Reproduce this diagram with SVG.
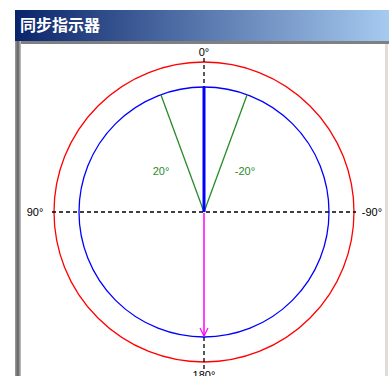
<svg xmlns="http://www.w3.org/2000/svg" width="389" height="376" viewBox="0 0 389 376">
<style>
.lbl{font-family:"Liberation Sans",Arial,sans-serif;font-size:11px;fill:#000;text-anchor:middle}
.glbl{font-family:"Liberation Sans",Arial,sans-serif;font-size:11px;fill:#2a8a2a;text-anchor:middle}
.axis{stroke:#000;stroke-width:1.3;stroke-dasharray:4,3;fill:none}
</style>
<defs>
<linearGradient id="tg" x1="0" y1="0" x2="1" y2="0">
<stop offset="0" stop-color="#0a246a"/>
<stop offset="1" stop-color="#a6caf0"/>
</linearGradient>
<linearGradient id="lb" x1="0" y1="0" x2="1" y2="0">
<stop offset="0" stop-color="#a0a0a0"/>
<stop offset="0.5" stop-color="#606060"/>
<stop offset="1" stop-color="#c8c8c8"/>
</linearGradient>
<marker id="ah" markerWidth="10" markerHeight="10" refX="9" refY="5" orient="auto" markerUnits="userSpaceOnUse">
<path d="M1,1 L9,5 L1,9" fill="none" stroke="#ff00ff" stroke-width="1.2"/>
</marker>
</defs>
<rect width="389" height="376" fill="#fff"/>
<g id="frame">
<rect x="15" y="10" width="374" height="31" fill="url(#tg)"/>
<text x="20" y="31" font-family="'Noto Sans CJK SC',sans-serif" font-size="16" font-weight="bold" fill="#fff">同步指示器</text>
<rect x="15" y="41" width="374" height="3" fill="#808080"/>
<rect x="15" y="41" width="6" height="335" fill="url(#lb)"/>
<rect x="385" y="44" width="3" height="332" fill="#e0dcd8"/>
</g>
<g id="circles">
<circle id="outer" cx="204" cy="212" r="150" fill="none" stroke="#ff0000" stroke-width="1.3"/>
<circle id="inner" cx="204" cy="212" r="125" fill="none" stroke="#0000ff" stroke-width="1.3"/>
</g>
<g id="connectors">
<line class="axis" x1="52" y1="212" x2="356" y2="212"/>
<line class="axis" x1="204" y1="58" x2="204" y2="88"/>
<line class="axis" x1="204" y1="337" x2="204" y2="370"/>
<line x1="204" y1="212" x2="161" y2="95" stroke="#2a8a2a" stroke-width="1.3"/>
<line x1="204" y1="212" x2="247" y2="95" stroke="#2a8a2a" stroke-width="1.3"/>
<line x1="204" y1="212" x2="204" y2="87" stroke="#0000ff" stroke-width="3"/>
<line x1="204" y1="213" x2="204" y2="336" stroke="#ff00ff" stroke-width="1.5" marker-end="url(#ah)"/>
</g>
<g id="labels">
<text class="lbl" x="204" y="56">0°</text>
<text class="lbl" x="35" y="216">90°</text>
<text class="lbl" x="372" y="216">-90°</text>
<text class="lbl" x="204" y="379">180°</text>
<text class="glbl" x="161" y="175">20°</text>
<text class="glbl" x="245" y="175">-20°</text>
</g>
</svg>
